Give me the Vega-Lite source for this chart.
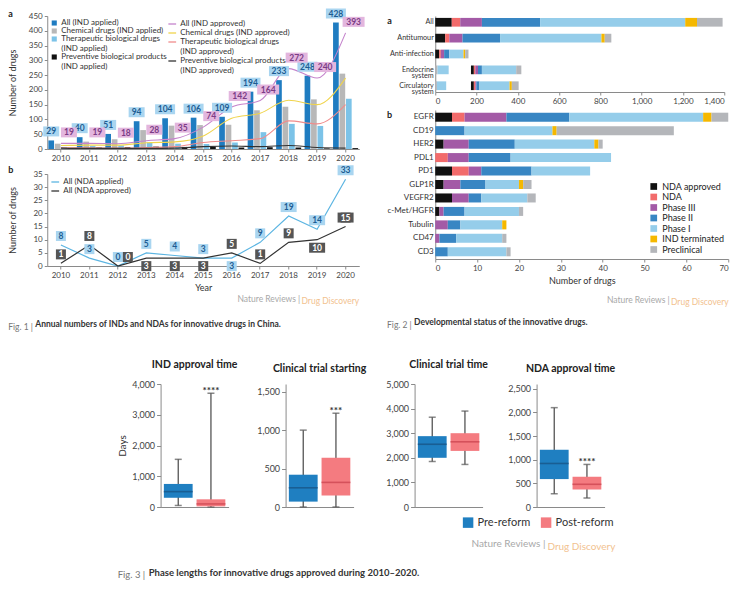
{
"$schema": "https://vega.github.io/schema/vega-lite/v6.json",
"background": "white",
"padding": {"left": 8, "top": 8, "right": 4, "bottom": 4},
"datasets": {
"ind": [
{"year":"2010","series":"All (IND applied)","kind":"applied","value":29},
{"year":"2011","series":"All (IND applied)","kind":"applied","value":40},
{"year":"2012","series":"All (IND applied)","kind":"applied","value":51},
{"year":"2013","series":"All (IND applied)","kind":"applied","value":94},
{"year":"2014","series":"All (IND applied)","kind":"applied","value":104},
{"year":"2015","series":"All (IND applied)","kind":"applied","value":106},
{"year":"2016","series":"All (IND applied)","kind":"applied","value":109},
{"year":"2017","series":"All (IND applied)","kind":"applied","value":194},
{"year":"2018","series":"All (IND applied)","kind":"applied","value":233},
{"year":"2019","series":"All (IND applied)","kind":"applied","value":248},
{"year":"2020","series":"All (IND applied)","kind":"applied","value":428},
{"year":"2010","series":"Chemical drugs (IND applied)","kind":"applied","value":18},
{"year":"2011","series":"Chemical drugs (IND applied)","kind":"applied","value":25},
{"year":"2012","series":"Chemical drugs (IND applied)","kind":"applied","value":33},
{"year":"2013","series":"Chemical drugs (IND applied)","kind":"applied","value":64},
{"year":"2014","series":"Chemical drugs (IND applied)","kind":"applied","value":79},
{"year":"2015","series":"Chemical drugs (IND applied)","kind":"applied","value":81},
{"year":"2016","series":"Chemical drugs (IND applied)","kind":"applied","value":82},
{"year":"2017","series":"Chemical drugs (IND applied)","kind":"applied","value":131},
{"year":"2018","series":"Chemical drugs (IND applied)","kind":"applied","value":143},
{"year":"2019","series":"Chemical drugs (IND applied)","kind":"applied","value":168},
{"year":"2020","series":"Chemical drugs (IND applied)","kind":"applied","value":255},
{"year":"2010","series":"Therapeutic biological drugs (IND applied)","kind":"applied","value":7},
{"year":"2011","series":"Therapeutic biological drugs (IND applied)","kind":"applied","value":10},
{"year":"2012","series":"Therapeutic biological drugs (IND applied)","kind":"applied","value":12},
{"year":"2013","series":"Therapeutic biological drugs (IND applied)","kind":"applied","value":22},
{"year":"2014","series":"Therapeutic biological drugs (IND applied)","kind":"applied","value":18},
{"year":"2015","series":"Therapeutic biological drugs (IND applied)","kind":"applied","value":17},
{"year":"2016","series":"Therapeutic biological drugs (IND applied)","kind":"applied","value":22},
{"year":"2017","series":"Therapeutic biological drugs (IND applied)","kind":"applied","value":57},
{"year":"2018","series":"Therapeutic biological drugs (IND applied)","kind":"applied","value":85},
{"year":"2019","series":"Therapeutic biological drugs (IND applied)","kind":"applied","value":78},
{"year":"2020","series":"Therapeutic biological drugs (IND applied)","kind":"applied","value":170},
{"year":"2010","series":"Preventive biological products (IND applied)","kind":"applied","value":3},
{"year":"2011","series":"Preventive biological products (IND applied)","kind":"applied","value":5},
{"year":"2012","series":"Preventive biological products (IND applied)","kind":"applied","value":6},
{"year":"2013","series":"Preventive biological products (IND applied)","kind":"applied","value":8},
{"year":"2014","series":"Preventive biological products (IND applied)","kind":"applied","value":7},
{"year":"2015","series":"Preventive biological products (IND applied)","kind":"applied","value":8},
{"year":"2016","series":"Preventive biological products (IND applied)","kind":"applied","value":5},
{"year":"2017","series":"Preventive biological products (IND applied)","kind":"applied","value":6},
{"year":"2018","series":"Preventive biological products (IND applied)","kind":"applied","value":5},
{"year":"2019","series":"Preventive biological products (IND applied)","kind":"applied","value":2},
{"year":"2020","series":"Preventive biological products (IND applied)","kind":"applied","value":3},
{"year":"2010","series":"All (IND approved)","kind":"approved","value":19},
{"year":"2011","series":"All (IND approved)","kind":"approved","value":19},
{"year":"2012","series":"All (IND approved)","kind":"approved","value":18},
{"year":"2013","series":"All (IND approved)","kind":"approved","value":28},
{"year":"2014","series":"All (IND approved)","kind":"approved","value":35},
{"year":"2015","series":"All (IND approved)","kind":"approved","value":74},
{"year":"2016","series":"All (IND approved)","kind":"approved","value":142},
{"year":"2017","series":"All (IND approved)","kind":"approved","value":164},
{"year":"2018","series":"All (IND approved)","kind":"approved","value":272},
{"year":"2019","series":"All (IND approved)","kind":"approved","value":240},
{"year":"2020","series":"All (IND approved)","kind":"approved","value":393},
{"year":"2010","series":"Chemical drugs (IND approved)","kind":"approved","value":12},
{"year":"2011","series":"Chemical drugs (IND approved)","kind":"approved","value":13},
{"year":"2012","series":"Chemical drugs (IND approved)","kind":"approved","value":13},
{"year":"2013","series":"Chemical drugs (IND approved)","kind":"approved","value":21},
{"year":"2014","series":"Chemical drugs (IND approved)","kind":"approved","value":24},
{"year":"2015","series":"Chemical drugs (IND approved)","kind":"approved","value":44},
{"year":"2016","series":"Chemical drugs (IND approved)","kind":"approved","value":104},
{"year":"2017","series":"Chemical drugs (IND approved)","kind":"approved","value":121},
{"year":"2018","series":"Chemical drugs (IND approved)","kind":"approved","value":165},
{"year":"2019","series":"Chemical drugs (IND approved)","kind":"approved","value":150},
{"year":"2020","series":"Chemical drugs (IND approved)","kind":"approved","value":240},
{"year":"2010","series":"Therapeutic biological drugs (IND approved)","kind":"approved","value":4},
{"year":"2011","series":"Therapeutic biological drugs (IND approved)","kind":"approved","value":4},
{"year":"2012","series":"Therapeutic biological drugs (IND approved)","kind":"approved","value":3},
{"year":"2013","series":"Therapeutic biological drugs (IND approved)","kind":"approved","value":5},
{"year":"2014","series":"Therapeutic biological drugs (IND approved)","kind":"approved","value":8},
{"year":"2015","series":"Therapeutic biological drugs (IND approved)","kind":"approved","value":22},
{"year":"2016","series":"Therapeutic biological drugs (IND approved)","kind":"approved","value":28},
{"year":"2017","series":"Therapeutic biological drugs (IND approved)","kind":"approved","value":35},
{"year":"2018","series":"Therapeutic biological drugs (IND approved)","kind":"approved","value":95},
{"year":"2019","series":"Therapeutic biological drugs (IND approved)","kind":"approved","value":85},
{"year":"2020","series":"Therapeutic biological drugs (IND approved)","kind":"approved","value":150},
{"year":"2010","series":"Preventive biological products (IND approved)","kind":"approved","value":3},
{"year":"2011","series":"Preventive biological products (IND approved)","kind":"approved","value":2},
{"year":"2012","series":"Preventive biological products (IND approved)","kind":"approved","value":2},
{"year":"2013","series":"Preventive biological products (IND approved)","kind":"approved","value":2},
{"year":"2014","series":"Preventive biological products (IND approved)","kind":"approved","value":3},
{"year":"2015","series":"Preventive biological products (IND approved)","kind":"approved","value":8},
{"year":"2016","series":"Preventive biological products (IND approved)","kind":"approved","value":10},
{"year":"2017","series":"Preventive biological products (IND approved)","kind":"approved","value":8},
{"year":"2018","series":"Preventive biological products (IND approved)","kind":"approved","value":12},
{"year":"2019","series":"Preventive biological products (IND approved)","kind":"approved","value":5},
{"year":"2020","series":"Preventive biological products (IND approved)","kind":"approved","value":3}
],
"nda": [
{"year":"2010","series":"All (NDA applied)","value":8},
{"year":"2011","series":"All (NDA applied)","value":3},
{"year":"2012","series":"All (NDA applied)","value":0},
{"year":"2013","series":"All (NDA applied)","value":5},
{"year":"2014","series":"All (NDA applied)","value":4},
{"year":"2015","series":"All (NDA applied)","value":3},
{"year":"2016","series":"All (NDA applied)","value":3},
{"year":"2017","series":"All (NDA applied)","value":9},
{"year":"2018","series":"All (NDA applied)","value":19},
{"year":"2019","series":"All (NDA applied)","value":14},
{"year":"2020","series":"All (NDA applied)","value":33},
{"year":"2010","series":"All (NDA approved)","value":1},
{"year":"2011","series":"All (NDA approved)","value":8},
{"year":"2012","series":"All (NDA approved)","value":0},
{"year":"2013","series":"All (NDA approved)","value":3},
{"year":"2014","series":"All (NDA approved)","value":3},
{"year":"2015","series":"All (NDA approved)","value":3},
{"year":"2016","series":"All (NDA approved)","value":5},
{"year":"2017","series":"All (NDA approved)","value":1},
{"year":"2018","series":"All (NDA approved)","value":9},
{"year":"2019","series":"All (NDA approved)","value":10},
{"year":"2020","series":"All (NDA approved)","value":15}
],
"area": [
{"cat":"All","status":"NDA approved","from":0,"to":80},
{"cat":"All","status":"NDA","from":80,"to":121},
{"cat":"All","status":"Phase III","from":121,"to":226},
{"cat":"All","status":"Phase II","from":226,"to":508},
{"cat":"All","status":"Phase I","from":508,"to":1211},
{"cat":"All","status":"IND terminated","from":1211,"to":1268},
{"cat":"All","status":"Preclinical","from":1268,"to":1392},
{"cat":"Antitumour","status":"NDA approved","from":0,"to":48},
{"cat":"Antitumour","status":"NDA","from":48,"to":68},
{"cat":"Antitumour","status":"Phase III","from":68,"to":132},
{"cat":"Antitumour","status":"Phase II","from":132,"to":314},
{"cat":"Antitumour","status":"Phase I","from":314,"to":805},
{"cat":"Antitumour","status":"IND terminated","from":805,"to":821},
{"cat":"Antitumour","status":"Preclinical","from":821,"to":853},
{"cat":"Anti-infection","status":"NDA approved","from":0,"to":19},
{"cat":"Anti-infection","status":"NDA","from":19,"to":27},
{"cat":"Anti-infection","status":"Phase III","from":27,"to":43},
{"cat":"Anti-infection","status":"Phase II","from":43,"to":68},
{"cat":"Anti-infection","status":"Phase I","from":68,"to":137},
{"cat":"Anti-infection","status":"IND terminated","from":137,"to":145},
{"cat":"Anti-infection","status":"Preclinical","from":145,"to":161},
{"cat":"Endocrine system","status":"Preclinical","from":0,"to":11},
{"cat":"Endocrine system","status":"Phase I","from":11,"to":65},
{"cat":"Endocrine system","status":"NDA approved","from":173,"to":187},
{"cat":"Endocrine system","status":"NDA","from":187,"to":194},
{"cat":"Endocrine system","status":"Phase III","from":194,"to":207},
{"cat":"Endocrine system","status":"Phase II","from":207,"to":226},
{"cat":"Endocrine system","status":"Phase I","from":226,"to":392},
{"cat":"Endocrine system","status":"Preclinical","from":392,"to":417},
{"cat":"Circulatory system","status":"Preclinical","from":0,"to":8},
{"cat":"Circulatory system","status":"Phase I","from":8,"to":53},
{"cat":"Circulatory system","status":"NDA approved","from":173,"to":187},
{"cat":"Circulatory system","status":"NDA","from":187,"to":194},
{"cat":"Circulatory system","status":"Phase III","from":194,"to":199},
{"cat":"Circulatory system","status":"Phase II","from":199,"to":214},
{"cat":"Circulatory system","status":"Phase I","from":214,"to":360},
{"cat":"Circulatory system","status":"IND terminated","from":360,"to":371},
{"cat":"Circulatory system","status":"Preclinical","from":371,"to":404}
],
"target": [
{"target":"EGFR","status":"NDA approved","stage":1,"n":4},
{"target":"EGFR","status":"NDA","stage":2,"n":3},
{"target":"EGFR","status":"Phase III","stage":3,"n":10},
{"target":"EGFR","status":"Phase II","stage":4,"n":15},
{"target":"EGFR","status":"Phase I","stage":5,"n":32},
{"target":"EGFR","status":"IND terminated","stage":6,"n":2},
{"target":"EGFR","status":"Preclinical","stage":7,"n":4},
{"target":"CD19","status":"Phase II","stage":4,"n":7},
{"target":"CD19","status":"Phase I","stage":5,"n":21},
{"target":"CD19","status":"IND terminated","stage":6,"n":1},
{"target":"CD19","status":"Preclinical","stage":7,"n":28},
{"target":"HER2","status":"NDA approved","stage":1,"n":2},
{"target":"HER2","status":"Phase III","stage":3,"n":6},
{"target":"HER2","status":"Phase II","stage":4,"n":11},
{"target":"HER2","status":"Phase I","stage":5,"n":19},
{"target":"HER2","status":"IND terminated","stage":6,"n":1},
{"target":"HER2","status":"Preclinical","stage":7,"n":1},
{"target":"PDL1","status":"NDA","stage":2,"n":3},
{"target":"PDL1","status":"Phase III","stage":3,"n":5},
{"target":"PDL1","status":"Phase II","stage":4,"n":10},
{"target":"PDL1","status":"Phase I","stage":5,"n":24},
{"target":"PD1","status":"NDA approved","stage":1,"n":4},
{"target":"PD1","status":"NDA","stage":2,"n":4},
{"target":"PD1","status":"Phase III","stage":3,"n":3},
{"target":"PD1","status":"Phase II","stage":4,"n":12},
{"target":"PD1","status":"Phase I","stage":5,"n":14},
{"target":"GLP1R","status":"NDA approved","stage":1,"n":2},
{"target":"GLP1R","status":"Phase III","stage":3,"n":4},
{"target":"GLP1R","status":"Phase II","stage":4,"n":6},
{"target":"GLP1R","status":"Phase I","stage":5,"n":8},
{"target":"GLP1R","status":"IND terminated","stage":6,"n":1},
{"target":"GLP1R","status":"Preclinical","stage":7,"n":2},
{"target":"VEGFR2","status":"NDA approved","stage":1,"n":4},
{"target":"VEGFR2","status":"Phase III","stage":3,"n":4},
{"target":"VEGFR2","status":"Phase II","stage":4,"n":3},
{"target":"VEGFR2","status":"Phase I","stage":5,"n":11},
{"target":"VEGFR2","status":"Preclinical","stage":7,"n":2},
{"target":"c-Met/HGFR","status":"NDA approved","stage":1,"n":1},
{"target":"c-Met/HGFR","status":"Phase III","stage":3,"n":1},
{"target":"c-Met/HGFR","status":"Phase II","stage":4,"n":5},
{"target":"c-Met/HGFR","status":"Phase I","stage":5,"n":13},
{"target":"c-Met/HGFR","status":"Preclinical","stage":7,"n":1},
{"target":"Tubulin","status":"Phase III","stage":3,"n":3},
{"target":"Tubulin","status":"Phase II","stage":4,"n":3},
{"target":"Tubulin","status":"Phase I","stage":5,"n":10},
{"target":"Tubulin","status":"IND terminated","stage":6,"n":1},
{"target":"CD47","status":"Phase III","stage":3,"n":1},
{"target":"CD47","status":"Phase II","stage":4,"n":4},
{"target":"CD47","status":"Phase I","stage":5,"n":11},
{"target":"CD47","status":"Preclinical","stage":7,"n":1},
{"target":"CD3","status":"Phase II","stage":4,"n":3},
{"target":"CD3","status":"Phase I","stage":5,"n":14},
{"target":"CD3","status":"Preclinical","stage":7,"n":1}
],
"box": [
{"panel":"IND approval time","group":"Pre-reform","min":50,"q1":300,"median":500,"q3":750,"max":1550,"sig":""},
{"panel":"IND approval time","group":"Post-reform","min":0,"q1":20,"median":100,"q3":250,"max":3700,"sig":"****"},
{"panel":"Clinical trial starting","group":"Pre-reform","min":0,"q1":70,"median":250,"q3":420,"max":1000,"sig":""},
{"panel":"Clinical trial starting","group":"Post-reform","min":0,"q1":150,"median":320,"q3":640,"max":1220,"sig":"***"},
{"panel":"Clinical trial time","group":"Pre-reform","min":1850,"q1":2000,"median":2550,"q3":2880,"max":3650,"sig":""},
{"panel":"Clinical trial time","group":"Post-reform","min":1730,"q1":2280,"median":2650,"q3":3000,"max":3900,"sig":""},
{"panel":"NDA approval time","group":"Pre-reform","min":280,"q1":590,"median":920,"q3":1210,"max":2100,"sig":""},
{"panel":"NDA approval time","group":"Post-reform","min":190,"q1":370,"median":480,"q3":640,"max":900,"sig":"****"}
]
},
"vconcat": [
{
"hconcat": [
{
"vconcat": [{
"vconcat": [
{
"width": 312, "height": 133,
"title": {"text": "a", "anchor": "start", "fontSize": 9, "offset": -10},
"data": {"name": "ind"},
"encoding": {
"x": {"field": "year", "type": "ordinal", "scale": {"type": "band", "paddingInner": 0.12, "paddingOuter": 0.04}, "axis": {"title": null, "labelAngle": 0}},
"y": {"field": "value", "type": "quantitative", "scale": {"domain": [0, 450]}, "axis": {"title": "Number of drugs", "values": [0,50,100,150,200,250,300,350,400,450], "tickCount": 10, "labelOverlap": false, "labelExpr": "format(datum.value, ',')", "minExtent": 26}}
},
"layer": [
{"transform": [{"filter": "datum.kind == 'applied'"}],
"mark": {"type": "bar"},
"encoding": {
"xOffset": {"field": "series", "type": "nominal", "sort": ["All (IND applied)", "Chemical drugs (IND applied)", "Therapeutic biological drugs (IND applied)", "Preventive biological products (IND applied)"], "scale": {"paddingInner": 0.12}},
"fill": {"field": "series", "type": "nominal", "scale": {"domain": ["All (IND applied)", "Chemical drugs (IND applied)", "Therapeutic biological drugs (IND applied)", "Preventive biological products (IND applied)"], "range": ["#1f7cc1", "#b8b8b8", "#7cc3e8", "#111111"]},
"legend": {"orient": "top-left", "offset": 3, "title": null, "symbolType": "square", "symbolSize": 26, "labelLimit": 220, "labelFontSize": 8, "labelOffset": 3, "rowPadding": 0, "labelExpr": "indexof(datum.label, 'biological') >= 0 ? split(replace(datum.label, ' (', '|('), '|') : datum.label"}}
}},
{"transform": [{"filter": "datum.kind == 'approved'"}],
"mark": {"type": "line", "interpolate": "monotone", "strokeWidth": 1.1},
"encoding": {
"stroke": {"field": "series", "type": "nominal", "scale": {"domain": ["All (IND approved)", "Chemical drugs (IND approved)", "Therapeutic biological drugs (IND approved)", "Preventive biological products (IND approved)"], "range": ["#c584cc", "#f0d44c", "#f08c8c", "#333333"]},
"legend": {"orient": "none", "legendX": 120, "legendY": 3, "title": null, "symbolType": "stroke", "symbolSize": 60, "symbolStrokeWidth": 1.3, "labelLimit": 220, "labelFontSize": 8, "labelOffset": 3, "rowPadding": 0, "labelExpr": "indexof(datum.label, 'biological') >= 0 ? split(replace(datum.label, ' (', '|('), '|') : datum.label"}}
}},
{"transform": [{"filter": "datum.series == 'All (IND applied)'"}],
"mark": {"type": "point", "filled": true, "opacity": 1, "size": 4, "color": "#a9d5f0", "strokeWidth": 0},
"encoding": {
"xOffset": {"field": "series", "type": "nominal", "sort": ["All (IND applied)", "Chemical drugs (IND applied)", "Therapeutic biological drugs (IND applied)", "Preventive biological products (IND applied)"]},
"shape": {"condition": {"test": "datum.value >= 100", "value": "M-10,-14H10V-4H-10Z"}, "value": "M-8,-14H8V-4H-8Z"}
}},
{"transform": [{"filter": "datum.series == 'All (IND applied)'"}],
"mark": {"type": "text", "dy": -9, "fontSize": 8.5, "fontWeight": "bold", "color": "#1d5d93"},
"encoding": {
"xOffset": {"field": "series", "type": "nominal", "sort": ["All (IND applied)", "Chemical drugs (IND applied)", "Therapeutic biological drugs (IND applied)", "Preventive biological products (IND applied)"]},
"text": {"field": "value", "type": "quantitative"}
}},
{"transform": [{"filter": "datum.series == 'All (IND approved)'"}],
"mark": {"type": "point", "filled": true, "opacity": 1, "size": 4, "color": "#e3b6de", "strokeWidth": 0},
"encoding": {
"shape": {"condition": {"test": "datum.value >= 100", "value": "M-3,-16H19V-6H-3Z"}, "value": "M0,-16H16V-6H0Z"}
}},
{"transform": [{"filter": "datum.series == 'All (IND approved)'"}],
"mark": {"type": "text", "dx": 8, "dy": -11, "fontSize": 8.5, "fontWeight": "bold", "color": "#7b3d86"},
"encoding": {
"text": {"field": "value", "type": "quantitative"}
}}
]
},
{
"vconcat": [{
"vconcat": [{
"width": 312, "height": 92,
"title": {"text": "b", "anchor": "start", "fontSize": 9, "offset": -10},
"data": {"name": "nda"},
"encoding": {"x": {"field": "year", "type": "ordinal", "scale": {"type": "band", "paddingInner": 0.12, "paddingOuter": 0.04}, "axis": {"title": "Year", "labelAngle": 0}}},
"layer": [
{"mark": {"type": "line", "strokeWidth": 1.2},
"encoding": {
"y": {"field": "value", "type": "quantitative", "scale": {"domain": [0, 35]}, "axis": {"title": "Number of drugs", "values": [0,5,10,15,20,25,30,35], "tickCount": 8, "labelOverlap": false, "labelExpr": "format(datum.value, ',')", "minExtent": 26}},
"stroke": {"field": "series", "type": "nominal", "scale": {"domain": ["All (NDA applied)", "All (NDA approved)"], "range": ["#5cb5e2", "#333333"]},
"legend": {"orient": "top-left", "offset": 3, "title": null, "symbolType": "stroke", "symbolSize": 60, "symbolStrokeWidth": 1.3, "labelFontSize": 8, "labelOffset": 3, "rowPadding": 0}}
}},
{"transform": [{"pivot": "series", "value": "value", "groupby": ["year"]}, {"filter": "!(datum['All (NDA approved)'] > datum['All (NDA applied)'] && datum['All (NDA approved)'] - datum['All (NDA applied)'] < 5)"}],
"mark": {"type": "point", "filled": true, "opacity": 1, "size": 4, "color": "#a9d5f0", "strokeWidth": 0},
"encoding": {"y": {"field": "All (NDA applied)", "type": "quantitative"},
"shape": {"condition": {"test": "datum['All (NDA applied)'] >= 10", "value": "M-8,-14H8V-4H-8Z"}, "value": "M-5,-14H5V-4H-5Z"}}},
{"transform": [{"pivot": "series", "value": "value", "groupby": ["year"]}, {"filter": "!(datum['All (NDA approved)'] > datum['All (NDA applied)'] && datum['All (NDA approved)'] - datum['All (NDA applied)'] < 5)"}],
"mark": {"type": "text", "dy": -9, "fontSize": 8.5, "fontWeight": "bold", "color": "#1d5d93"},
"encoding": {"y": {"field": "All (NDA applied)", "type": "quantitative"}, "text": {"field": "All (NDA applied)", "type": "quantitative"}}},
{"transform": [{"pivot": "series", "value": "value", "groupby": ["year"]}, {"filter": "datum['All (NDA approved)'] > datum['All (NDA applied)'] && datum['All (NDA approved)'] - datum['All (NDA applied)'] < 5"}],
"mark": {"type": "point", "filled": true, "opacity": 1, "size": 4, "color": "#a9d5f0", "strokeWidth": 0},
"encoding": {"y": {"field": "All (NDA applied)", "type": "quantitative"},
"shape": {"value": "M-5,3H5V13H-5Z"}}},
{"transform": [{"pivot": "series", "value": "value", "groupby": ["year"]}, {"filter": "datum['All (NDA approved)'] > datum['All (NDA applied)'] && datum['All (NDA approved)'] - datum['All (NDA applied)'] < 5"}],
"mark": {"type": "text", "dy": 8, "fontSize": 8.5, "fontWeight": "bold", "color": "#1d5d93"},
"encoding": {"y": {"field": "All (NDA applied)", "type": "quantitative"}, "text": {"field": "All (NDA applied)", "type": "quantitative"}}},
{"transform": [{"pivot": "series", "value": "value", "groupby": ["year"]}, {"filter": "datum['All (NDA approved)'] > datum['All (NDA applied)'] || datum['All (NDA applied)'] - datum['All (NDA approved)'] >= 5 || datum['All (NDA approved)'] == 0"}],
"mark": {"type": "point", "filled": true, "opacity": 1, "size": 4, "color": "#555555", "strokeWidth": 0},
"encoding": {"y": {"field": "All (NDA approved)", "type": "quantitative"},
"shape": {"condition": {"test": "datum['All (NDA approved)'] == 0", "value": "M5,-14H15V-4H5Z"}, "value": "M-5,-14H5V-4H-5Z"}}},
{"transform": [{"pivot": "series", "value": "value", "groupby": ["year"]}, {"filter": "(datum['All (NDA approved)'] > datum['All (NDA applied)'] || datum['All (NDA applied)'] - datum['All (NDA approved)'] >= 5) && datum['All (NDA approved)'] < 10"}],
"mark": {"type": "text", "dy": -9, "fontSize": 8.5, "fontWeight": "bold", "color": "#ffffff"},
"encoding": {"y": {"field": "All (NDA approved)", "type": "quantitative"}, "text": {"field": "All (NDA approved)", "type": "quantitative"}}},
{"transform": [{"pivot": "series", "value": "value", "groupby": ["year"]}, {"filter": "datum['All (NDA approved)'] >= 10 && datum['All (NDA applied)'] - datum['All (NDA approved)'] >= 5"}],
"mark": {"type": "point", "filled": true, "opacity": 1, "size": 4, "color": "#555555", "strokeWidth": 0},
"encoding": {"y": {"field": "All (NDA approved)", "type": "quantitative"},
"shape": {"value": "M-8,-14H8V-4H-8Z"}}},
{"transform": [{"pivot": "series", "value": "value", "groupby": ["year"]}, {"filter": "datum['All (NDA approved)'] >= 10 && datum['All (NDA applied)'] - datum['All (NDA approved)'] >= 5"}],
"mark": {"type": "text", "dy": -9, "fontSize": 8.5, "fontWeight": "bold", "color": "#ffffff"},
"encoding": {"y": {"field": "All (NDA approved)", "type": "quantitative"}, "text": {"field": "All (NDA approved)", "type": "quantitative"}}},
{"transform": [{"pivot": "series", "value": "value", "groupby": ["year"]}, {"filter": "datum['All (NDA approved)'] == 0"}],
"mark": {"type": "text", "dx": 10, "dy": -9, "fontSize": 8.5, "fontWeight": "bold", "color": "#ffffff"},
"encoding": {"y": {"field": "All (NDA approved)", "type": "quantitative"}, "text": {"field": "All (NDA approved)", "type": "quantitative"}}},
{"transform": [{"pivot": "series", "value": "value", "groupby": ["year"]}, {"filter": "!(datum['All (NDA approved)'] > datum['All (NDA applied)'] || datum['All (NDA applied)'] - datum['All (NDA approved)'] >= 5 || datum['All (NDA approved)'] == 0)"}],
"mark": {"type": "point", "filled": true, "opacity": 1, "size": 4, "color": "#555555", "strokeWidth": 0},
"encoding": {"y": {"field": "All (NDA approved)", "type": "quantitative"},
"shape": {"condition": {"test": "datum['All (NDA approved)'] >= 10", "value": "M-8,3H8V13H-8Z"}, "value": "M-5,3H5V13H-5Z"}}},
{"transform": [{"pivot": "series", "value": "value", "groupby": ["year"]}, {"filter": "!(datum['All (NDA approved)'] > datum['All (NDA applied)'] || datum['All (NDA applied)'] - datum['All (NDA approved)'] >= 5 || datum['All (NDA approved)'] == 0)"}],
"mark": {"type": "text", "dy": 8, "fontSize": 8.5, "fontWeight": "bold", "color": "#ffffff"},
"encoding": {"y": {"field": "All (NDA approved)", "type": "quantitative"}, "text": {"field": "All (NDA approved)", "type": "quantitative"}}}
]
}],
"resolve": {"scale": {"stroke": "independent"}, "legend": {"stroke": "independent"}},
"title": {"text": "Drug Discovery", "orient": "bottom", "anchor": "end", "color": "#f2c28f", "fontSize": 8.5, "fontWeight": "normal", "offset": 5}
}],
"resolve": {"scale": {"stroke": "independent"}, "legend": {"stroke": "independent"}},
"title": {"text": "Nature Reviews |", "orient": "bottom", "anchor": "end", "color": "#a8a8a8", "fontSize": 8.5, "fontWeight": "normal", "offset": 0, "dx": -59, "dy": -11}
}
],
"spacing": 3,
"resolve": {"scale": {"stroke": "independent", "fill": "independent", "color": "independent", "shape": "independent"}, "legend": {"stroke": "independent", "fill": "independent"}},
"title": {"text": "Fig. 1 |", "orient": "bottom", "anchor": "start", "color": "#777777", "fontSize": 8.5, "fontWeight": "normal", "offset": 17}
}],
"resolve": {"scale": {"stroke": "independent", "fill": "independent"}, "legend": {"stroke": "independent", "fill": "independent"}},
"title": {"text": "Annual numbers of INDs and NDAs for innovative drugs in China.", "orient": "bottom", "anchor": "start", "color": "#333333", "fontSize": 8.5, "fontWeight": "bold", "offset": 0, "dx": 27, "dy": -11}
},
{
"vconcat": [{
"vconcat": [
{
"width": 289, "height": 76,
"title": {"text": "a", "anchor": "start", "fontSize": 9, "offset": -10},
"data": {"name": "area"},
"mark": {"type": "bar"},
"encoding": {
"y": {"field": "cat", "type": "nominal", "sort": ["All", "Antitumour", "Anti-infection", "Endocrine system", "Circulatory system"], "scale": {"paddingInner": 0.45, "paddingOuter": 0.12}, "axis": {"title": null, "ticks": false, "minExtent": 48, "labelFontSize": 7.2, "labelLineHeight": 6.5, "labelColor": "#333", "labelExpr": "indexof(datum.label, ' system') > 0 ? split(datum.label, ' ') : datum.label"}},
"x": {"field": "from", "type": "quantitative", "scale": {"domain": [0, 1400]}, "axis": {"title": null, "values": [0,200,400,600,800,1000,1200,1400], "tickCount": 8, "labelOverlap": false, "labelExpr": "format(datum.value, ',')"}},
"x2": {"field": "to"},
"color": {"field": "status", "type": "nominal", "scale": {"domain": ["NDA approved", "NDA", "Phase III", "Phase II", "Phase I", "IND terminated", "Preclinical"], "range": ["#111111", "#f26b6b", "#a35aa6", "#3886c3", "#95cdea", "#f5b800", "#b4b6ba"]}, "legend": null}
}
},
{
"vconcat": [{
"vconcat": [{
"width": 293, "height": 149,
"title": {"text": "b", "anchor": "start", "fontSize": 9, "offset": -10},
"data": {"name": "target"},
"mark": {"type": "bar"},
"encoding": {
"y": {"field": "target", "type": "nominal", "sort": ["EGFR", "CD19", "HER2", "PDL1", "PD1", "GLP1R", "VEGFR2", "c-Met/HGFR", "Tubulin", "CD47", "CD3"], "scale": {"paddingInner": 0.33, "paddingOuter": 0.2}, "axis": {"title": null, "ticks": false, "minExtent": 48, "labelColor": "#333"}},
"x": {"field": "n", "type": "quantitative", "stack": "zero", "scale": {"domain": [0, 70]}, "axis": {"title": "Number of drugs", "values": [0,10,20,30,40,50,60,70], "tickCount": 8, "labelOverlap": false, "labelExpr": "format(datum.value, ',')"}},
"order": {"field": "stage", "type": "quantitative", "sort": "ascending"},
"color": {"field": "status", "type": "nominal", "scale": {"domain": ["NDA approved", "NDA", "Phase III", "Phase II", "Phase I", "IND terminated", "Preclinical"], "range": ["#111111", "#f26b6b", "#a35aa6", "#3886c3", "#95cdea", "#f5b800", "#b4b6ba"]},
"legend": {"orient": "bottom-right", "offset": 4, "title": null, "symbolType": "square", "symbolSize": 45, "symbolStrokeWidth": 0, "labelFontSize": 9, "labelColor": "#222", "rowPadding": 0.5}}
}
}],
"resolve": {"scale": {"color": "independent"}, "legend": {"color": "independent"}},
"title": {"text": "Drug Discovery", "orient": "bottom", "anchor": "end", "color": "#f2c28f", "fontSize": 8.5, "fontWeight": "normal", "offset": 13}
}],
"resolve": {"scale": {"color": "independent"}, "legend": {"color": "independent"}},
"title": {"text": "Nature Reviews |", "orient": "bottom", "anchor": "end", "color": "#a8a8a8", "fontSize": 8.5, "fontWeight": "normal", "offset": 0, "dx": -59, "dy": -11}
}
],
"spacing": 5,
"resolve": {"scale": {"color": "independent"}, "legend": {"color": "independent"}},
"title": {"text": "Fig. 2 |", "orient": "bottom", "anchor": "start", "color": "#777777", "fontSize": 8.5, "fontWeight": "normal", "offset": 14}
}],
"resolve": {"scale": {"color": "independent"}, "legend": {"color": "independent"}},
"title": {"text": "Developmental status of the innovative drugs.", "orient": "bottom", "anchor": "start", "color": "#333333", "fontSize": 8.5, "fontWeight": "bold", "offset": 0, "dx": 27, "dy": -11}
}
],
"spacing": 21,
"resolve": {"scale": {"stroke": "independent", "fill": "independent", "color": "independent"}, "legend": {"stroke": "independent", "fill": "independent", "color": "independent"}}
},
{
"vconcat": [{
"vconcat": [{
"vconcat": [{
"vconcat": [{
"hconcat": [
{
"width": 68, "height": 123,
"title": {"text": "IND approval time", "fontSize": 10.5, "fontWeight": "bold", "color": "#222", "offset": 10},
"data": {"name": "box"},
"transform": [{"filter": "datum.panel == 'IND approval time'"}],
"encoding": {"x": {"field": "group", "type": "nominal", "sort": ["Pre-reform", "Post-reform"], "scale": {"paddingInner": 0.12, "paddingOuter": 0.1}, "axis": {"title": null, "labels": false, "ticks": false}}},
"layer": [
{"mark": {"type": "rule", "color": "#555555", "strokeWidth": 1.3}, "encoding": {"y": {"field": "min", "type": "quantitative", "scale": {"domain": [0, 4000]}, "axis": {"title": "Days", "values": [0,1000,2000,3000,4000], "tickCount": 5, "labelOverlap": false, "labelExpr": "format(datum.value, ',')", "labelFontSize": 9, "titleFontSize": 10, "minExtent": 26, "tickSize": 4}}, "y2": {"field": "max"}}},
{"mark": {"type": "tick", "color": "#555555", "size": 7, "thickness": 1.5}, "encoding": {"y": {"field": "min", "type": "quantitative"}}},
{"mark": {"type": "tick", "color": "#555555", "size": 7, "thickness": 1.5}, "encoding": {"y": {"field": "max", "type": "quantitative"}}},
{"mark": {"type": "bar"}, "encoding": {"y": {"field": "q1", "type": "quantitative"}, "y2": {"field": "q3"}, "fill": {"field": "group", "type": "nominal", "scale": {"domain": ["Pre-reform", "Post-reform"], "range": ["#1f7fc1", "#f47b80"]}, "legend": {"orient": "none", "legendX": 302, "legendY": 133, "direction": "horizontal", "title": null, "symbolType": "square", "symbolSize": 110, "symbolStrokeWidth": 0, "labelFontSize": 11, "labelColor": "#333", "columnPadding": 10}}}},
{"mark": {"type": "tick", "size": 29, "thickness": 1.6}, "encoding": {"y": {"field": "median", "type": "quantitative"}, "color": {"condition": {"test": "datum.group == 'Pre-reform'", "value": "#17507f"}, "value": "#c8404c"}}},
{"mark": {"type": "text", "fontSize": 10, "fontWeight": "bold", "color": "#333333", "baseline": "alphabetic", "dy": 1}, "encoding": {"y": {"field": "max", "type": "quantitative"}, "text": {"field": "sig"}}}
]
},
{
"width": 68, "height": 123,
"title": {"text": "Clinical trial starting", "fontSize": 10.5, "fontWeight": "bold", "color": "#222", "offset": 10},
"data": {"name": "box"},
"transform": [{"filter": "datum.panel == 'Clinical trial starting'"}],
"encoding": {"x": {"field": "group", "type": "nominal", "sort": ["Pre-reform", "Post-reform"], "scale": {"paddingInner": 0.12, "paddingOuter": 0.1}, "axis": {"title": null, "labels": false, "ticks": false}}},
"layer": [
{"mark": {"type": "rule", "color": "#555555", "strokeWidth": 1.3}, "encoding": {"y": {"field": "min", "type": "quantitative", "scale": {"domain": [0, 1500]}, "axis": {"title": null, "values": [0,500,1000,1500], "tickCount": 4, "labelOverlap": false, "labelExpr": "format(datum.value, ',')", "labelFontSize": 9, "minExtent": 26, "tickSize": 4}}, "y2": {"field": "max"}}},
{"mark": {"type": "tick", "color": "#555555", "size": 7, "thickness": 1.5}, "encoding": {"y": {"field": "min", "type": "quantitative"}}},
{"mark": {"type": "tick", "color": "#555555", "size": 7, "thickness": 1.5}, "encoding": {"y": {"field": "max", "type": "quantitative"}}},
{"mark": {"type": "bar"}, "encoding": {"y": {"field": "q1", "type": "quantitative"}, "y2": {"field": "q3"}, "fill": {"field": "group", "type": "nominal", "scale": {"domain": ["Pre-reform", "Post-reform"], "range": ["#1f7fc1", "#f47b80"]}, "legend": {"orient": "none", "legendX": 302, "legendY": 133, "direction": "horizontal", "title": null, "symbolType": "square", "symbolSize": 110, "symbolStrokeWidth": 0, "labelFontSize": 11, "labelColor": "#333", "columnPadding": 10}}}},
{"mark": {"type": "tick", "size": 29, "thickness": 1.6}, "encoding": {"y": {"field": "median", "type": "quantitative"}, "color": {"condition": {"test": "datum.group == 'Pre-reform'", "value": "#17507f"}, "value": "#c8404c"}}},
{"mark": {"type": "text", "fontSize": 10, "fontWeight": "bold", "color": "#333333", "baseline": "alphabetic", "dy": 1}, "encoding": {"y": {"field": "max", "type": "quantitative"}, "text": {"field": "sig"}}}
]
},
{
"width": 68, "height": 123,
"title": {"text": "Clinical trial time", "fontSize": 10.5, "fontWeight": "bold", "color": "#222", "offset": 10},
"data": {"name": "box"},
"transform": [{"filter": "datum.panel == 'Clinical trial time'"}],
"encoding": {"x": {"field": "group", "type": "nominal", "sort": ["Pre-reform", "Post-reform"], "scale": {"paddingInner": 0.12, "paddingOuter": 0.1}, "axis": {"title": null, "labels": false, "ticks": false}}},
"layer": [
{"mark": {"type": "rule", "color": "#555555", "strokeWidth": 1.3}, "encoding": {"y": {"field": "min", "type": "quantitative", "scale": {"domain": [0, 5000]}, "axis": {"title": null, "values": [0,1000,2000,3000,4000,5000], "tickCount": 6, "labelOverlap": false, "labelExpr": "format(datum.value, ',')", "labelFontSize": 9, "minExtent": 26, "tickSize": 4}}, "y2": {"field": "max"}}},
{"mark": {"type": "tick", "color": "#555555", "size": 7, "thickness": 1.5}, "encoding": {"y": {"field": "min", "type": "quantitative"}}},
{"mark": {"type": "tick", "color": "#555555", "size": 7, "thickness": 1.5}, "encoding": {"y": {"field": "max", "type": "quantitative"}}},
{"mark": {"type": "bar"}, "encoding": {"y": {"field": "q1", "type": "quantitative"}, "y2": {"field": "q3"}, "fill": {"field": "group", "type": "nominal", "scale": {"domain": ["Pre-reform", "Post-reform"], "range": ["#1f7fc1", "#f47b80"]}, "legend": {"orient": "none", "legendX": 302, "legendY": 133, "direction": "horizontal", "title": null, "symbolType": "square", "symbolSize": 110, "symbolStrokeWidth": 0, "labelFontSize": 11, "labelColor": "#333", "columnPadding": 10}}}},
{"mark": {"type": "tick", "size": 29, "thickness": 1.6}, "encoding": {"y": {"field": "median", "type": "quantitative"}, "color": {"condition": {"test": "datum.group == 'Pre-reform'", "value": "#17507f"}, "value": "#c8404c"}}},
{"mark": {"type": "text", "fontSize": 10, "fontWeight": "bold", "color": "#333333", "baseline": "alphabetic", "dy": 1}, "encoding": {"y": {"field": "max", "type": "quantitative"}, "text": {"field": "sig"}}}
]
},
{
"width": 68, "height": 123,
"title": {"text": "NDA approval time", "fontSize": 10.5, "fontWeight": "bold", "color": "#222", "offset": 10},
"data": {"name": "box"},
"transform": [{"filter": "datum.panel == 'NDA approval time'"}],
"encoding": {"x": {"field": "group", "type": "nominal", "sort": ["Pre-reform", "Post-reform"], "scale": {"paddingInner": 0.12, "paddingOuter": 0.1}, "axis": {"title": null, "labels": false, "ticks": false}}},
"layer": [
{"mark": {"type": "rule", "color": "#555555", "strokeWidth": 1.3}, "encoding": {"y": {"field": "min", "type": "quantitative", "scale": {"domain": [0, 2500]}, "axis": {"title": null, "values": [0,500,1000,1500,2000,2500], "tickCount": 6, "labelOverlap": false, "labelExpr": "format(datum.value, ',')", "labelFontSize": 9, "minExtent": 26, "tickSize": 4}}, "y2": {"field": "max"}}},
{"mark": {"type": "tick", "color": "#555555", "size": 7, "thickness": 1.5}, "encoding": {"y": {"field": "min", "type": "quantitative"}}},
{"mark": {"type": "tick", "color": "#555555", "size": 7, "thickness": 1.5}, "encoding": {"y": {"field": "max", "type": "quantitative"}}},
{"mark": {"type": "bar"}, "encoding": {"y": {"field": "q1", "type": "quantitative"}, "y2": {"field": "q3"}, "fill": {"field": "group", "type": "nominal", "scale": {"domain": ["Pre-reform", "Post-reform"], "range": ["#1f7fc1", "#f47b80"]}, "legend": {"orient": "none", "legendX": 302, "legendY": 133, "direction": "horizontal", "title": null, "symbolType": "square", "symbolSize": 110, "symbolStrokeWidth": 0, "labelFontSize": 11, "labelColor": "#333", "columnPadding": 10}}}},
{"mark": {"type": "tick", "size": 29, "thickness": 1.6}, "encoding": {"y": {"field": "median", "type": "quantitative"}, "color": {"condition": {"test": "datum.group == 'Pre-reform'", "value": "#17507f"}, "value": "#c8404c"}}},
{"mark": {"type": "text", "fontSize": 10, "fontWeight": "bold", "color": "#333333", "baseline": "alphabetic", "dy": 1}, "encoding": {"y": {"field": "max", "type": "quantitative"}, "text": {"field": "sig"}}}
]
}
],
"spacing": 19,
"resolve": {"scale": {"x": "independent", "y": "independent"}}
}],
"resolve": {"scale": {"fill": "independent"}, "legend": {"fill": "independent"}},
"title": {"text": "Drug Discovery", "orient": "bottom", "anchor": "end", "color": "#f2c28f", "fontSize": 10, "fontWeight": "normal", "offset": 14}
}],
"resolve": {"scale": {"fill": "independent"}, "legend": {"fill": "independent"}},
"title": {"text": "Nature Reviews |", "orient": "bottom", "anchor": "end", "color": "#a8a8a8", "fontSize": 10, "fontWeight": "normal", "offset": 0, "dx": -70, "dy": -13}
}],
"resolve": {"scale": {"fill": "independent"}, "legend": {"fill": "independent"}},
"title": {"text": "Fig. 3 |", "orient": "bottom", "anchor": "start", "color": "#777777", "fontSize": 9.5, "fontWeight": "normal", "offset": 18}
}],
"resolve": {"scale": {"fill": "independent"}, "legend": {"fill": "independent"}},
"title": {"text": "Phase lengths for innovative drugs approved during 2010\u20132020.", "orient": "bottom", "anchor": "start", "color": "#333333", "fontSize": 9.5, "fontWeight": "bold", "offset": 0, "dx": 31, "dy": -12}
}
],
"spacing": 28,
"center": true,
"resolve": {"scale": {"stroke": "independent", "fill": "independent", "color": "independent"}, "legend": {"stroke": "independent", "fill": "independent", "color": "independent"}},
"config": {
"font": "Lato",
"view": {"stroke": null},
"axis": {"grid": false, "labelOverlap": false, "domainColor": "#8a8a8a", "tickColor": "#8a8a8a", "labelColor": "#444444", "labelFontSize": 8, "titleFontSize": 9, "titleFontWeight": "normal", "titleColor": "#333333", "tickSize": 3, "labelPadding": 2, "titlePadding": 4},
"legend": {"labelFontSize": 8.5, "labelColor": "#333333", "padding": 0},
"title": {"fontSize": 9, "color": "#222222", "fontWeight": "bold"}
}
}
